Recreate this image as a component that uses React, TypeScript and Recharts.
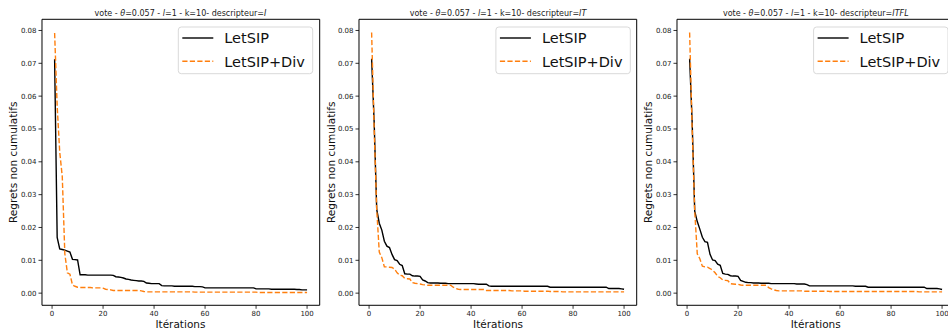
import React from 'react';
import { LineChart, Line, XAxis, YAxis, ReferenceLine } from 'recharts';

// iteration index (1..100)
const iterations = Array.from({ length: 100 }, (_, i) => i + 1);

// descripteur = I
const letsipI = [
  0.0712, 0.0170, 0.0135, 0.0133, 0.0131, 0.0128, 0.0125, 0.0103, 0.0102, 0.0101,
  0.0056, 0.0056, 0.0056, 0.0055, 0.0055, 0.0055, 0.0055, 0.0055, 0.0055, 0.0055,
  0.0055, 0.0055, 0.0055, 0.0054, 0.0050, 0.0049, 0.0048, 0.0046, 0.0043, 0.0042,
  0.0040, 0.0039, 0.0038, 0.0037, 0.0037, 0.0036, 0.0031, 0.0030, 0.0029, 0.0029,
  0.0029, 0.0029, 0.0023, 0.0022, 0.0022, 0.0022, 0.0022, 0.0021, 0.0021, 0.0021,
  0.0021, 0.0021, 0.0021, 0.0021, 0.0021, 0.0020, 0.0020, 0.0020, 0.0019, 0.0016,
  0.0016, 0.0016, 0.0016, 0.0016, 0.0016, 0.0016, 0.0016, 0.0016, 0.0016, 0.0016,
  0.0016, 0.0016, 0.0016, 0.0016, 0.0016, 0.0016, 0.0016, 0.0016, 0.0016, 0.0013,
  0.0013, 0.0013, 0.0013, 0.0013, 0.0013, 0.0012, 0.0012, 0.0012, 0.0012, 0.0012,
  0.0012, 0.0012, 0.0012, 0.0012, 0.0012, 0.0011, 0.0011, 0.0010, 0.0010, 0.0010,
];
const divI = [
  0.0792, 0.0570, 0.0430, 0.0355, 0.0120, 0.0062, 0.0058, 0.0025, 0.0021, 0.0018,
  0.0017, 0.0017, 0.0017, 0.0017, 0.0017, 0.0016, 0.0016, 0.0016, 0.0016, 0.0015,
  0.0012, 0.0011, 0.0010, 0.0008, 0.0008, 0.0008, 0.0008, 0.0008, 0.0008, 0.0008,
  0.0008, 0.0008, 0.0008, 0.0008, 0.0007, 0.0005, 0.0004, 0.0004, 0.0004, 0.0004,
  0.0004, 0.0004, 0.0004, 0.0004, 0.0004, 0.0004, 0.0004, 0.0004, 0.0004, 0.0004,
  0.0004, 0.0004, 0.0004, 0.0004, 0.0004, 0.0003, 0.0003, 0.0003, 0.0003, 0.0003,
  0.0003, 0.0003, 0.0003, 0.0003, 0.0003, 0.0003, 0.0003, 0.0003, 0.0003, 0.0003,
  0.0003, 0.0003, 0.0003, 0.0003, 0.0003, 0.0003, 0.0003, 0.0003, 0.0003, 0.0003,
  0.0002, 0.0002, 0.0002, 0.0002, 0.0002, 0.0002, 0.0002, 0.0002, 0.0002, 0.0002,
  0.0002, 0.0002, 0.0002, 0.0002, 0.0002, 0.0002, 0.0002, 0.0002, 0.0002, 0.0002,
];

// descripteur = IT
const letsipIT = [
  0.0714, 0.0520, 0.0255, 0.0213, 0.0192, 0.0158, 0.0143, 0.0139, 0.0118, 0.0102,
  0.0099, 0.0088, 0.0084, 0.0059, 0.0058, 0.0058, 0.0053, 0.0052, 0.0052, 0.0051,
  0.0040, 0.0037, 0.0032, 0.0031, 0.0031, 0.0031, 0.0031, 0.0030, 0.0030, 0.0030,
  0.0029, 0.0029, 0.0029, 0.0029, 0.0029, 0.0029, 0.0029, 0.0029, 0.0029, 0.0029,
  0.0029, 0.0028, 0.0027, 0.0027, 0.0027, 0.0027, 0.0022, 0.0021, 0.0021, 0.0021,
  0.0021, 0.0021, 0.0021, 0.0021, 0.0021, 0.0021, 0.0021, 0.0021, 0.0021, 0.0021,
  0.0021, 0.0021, 0.0021, 0.0021, 0.0021, 0.0021, 0.0021, 0.0021, 0.0021, 0.0021,
  0.0018, 0.0018, 0.0018, 0.0018, 0.0018, 0.0018, 0.0018, 0.0018, 0.0018, 0.0018,
  0.0018, 0.0018, 0.0018, 0.0018, 0.0018, 0.0018, 0.0018, 0.0018, 0.0018, 0.0018,
  0.0018, 0.0018, 0.0018, 0.0014, 0.0014, 0.0014, 0.0014, 0.0014, 0.0013, 0.0012,
];
const divIT = [
  0.0794, 0.0500, 0.0255, 0.0125, 0.0108, 0.0080, 0.0080, 0.0079, 0.0078, 0.0073,
  0.0062, 0.0055, 0.0053, 0.0045, 0.0044, 0.0043, 0.0032, 0.0030, 0.0029, 0.0028,
  0.0026, 0.0025, 0.0024, 0.0024, 0.0024, 0.0024, 0.0024, 0.0024, 0.0024, 0.0024,
  0.0024, 0.0024, 0.0018, 0.0014, 0.0012, 0.0011, 0.0011, 0.0011, 0.0011, 0.0011,
  0.0011, 0.0011, 0.0011, 0.0011, 0.0011, 0.0008, 0.0008, 0.0008, 0.0008, 0.0008,
  0.0008, 0.0008, 0.0008, 0.0008, 0.0008, 0.0007, 0.0007, 0.0007, 0.0007, 0.0007,
  0.0006, 0.0006, 0.0006, 0.0006, 0.0006, 0.0006, 0.0006, 0.0006, 0.0006, 0.0006,
  0.0005, 0.0005, 0.0005, 0.0005, 0.0005, 0.0004, 0.0004, 0.0004, 0.0004, 0.0004,
  0.0004, 0.0004, 0.0004, 0.0004, 0.0004, 0.0004, 0.0004, 0.0004, 0.0004, 0.0004,
  0.0004, 0.0004, 0.0004, 0.0004, 0.0004, 0.0004, 0.0004, 0.0004, 0.0004, 0.0004,
];

// descripteur = ITFL
const letsipITFL = [
  0.0714, 0.0520, 0.0250, 0.0218, 0.0195, 0.0170, 0.0157, 0.0155, 0.0118, 0.0101,
  0.0099, 0.0088, 0.0085, 0.0060, 0.0058, 0.0057, 0.0053, 0.0052, 0.0052, 0.0051,
  0.0039, 0.0036, 0.0033, 0.0032, 0.0032, 0.0031, 0.0031, 0.0031, 0.0030, 0.0030,
  0.0030, 0.0030, 0.0029, 0.0029, 0.0029, 0.0029, 0.0029, 0.0029, 0.0029, 0.0029,
  0.0029, 0.0029, 0.0028, 0.0028, 0.0028, 0.0028, 0.0026, 0.0022, 0.0022, 0.0022,
  0.0022, 0.0022, 0.0022, 0.0022, 0.0022, 0.0022, 0.0022, 0.0022, 0.0022, 0.0022,
  0.0022, 0.0022, 0.0022, 0.0022, 0.0022, 0.0021, 0.0021, 0.0021, 0.0021, 0.0021,
  0.0018, 0.0018, 0.0018, 0.0018, 0.0018, 0.0018, 0.0018, 0.0018, 0.0018, 0.0018,
  0.0018, 0.0018, 0.0018, 0.0018, 0.0018, 0.0018, 0.0018, 0.0018, 0.0018, 0.0018,
  0.0018, 0.0018, 0.0018, 0.0014, 0.0014, 0.0014, 0.0014, 0.0014, 0.0013, 0.0011,
];
const divITFL = [
  0.0794, 0.0500, 0.0250, 0.0120, 0.0105, 0.0082, 0.0080, 0.0079, 0.0075, 0.0070,
  0.0062, 0.0051, 0.0047, 0.0040, 0.0039, 0.0038, 0.0029, 0.0028, 0.0027, 0.0027,
  0.0025, 0.0024, 0.0024, 0.0024, 0.0024, 0.0024, 0.0024, 0.0024, 0.0024, 0.0024,
  0.0024, 0.0017, 0.0013, 0.0010, 0.0008, 0.0007, 0.0007, 0.0007, 0.0007, 0.0007,
  0.0007, 0.0007, 0.0007, 0.0007, 0.0007, 0.0006, 0.0006, 0.0006, 0.0006, 0.0006,
  0.0006, 0.0006, 0.0006, 0.0006, 0.0006, 0.0005, 0.0005, 0.0005, 0.0005, 0.0005,
  0.0005, 0.0005, 0.0005, 0.0005, 0.0005, 0.0005, 0.0005, 0.0005, 0.0005, 0.0005,
  0.0005, 0.0005, 0.0005, 0.0005, 0.0005, 0.0005, 0.0005, 0.0005, 0.0005, 0.0005,
  0.0005, 0.0005, 0.0005, 0.0005, 0.0005, 0.0005, 0.0005, 0.0005, 0.0005, 0.0005,
  0.0004, 0.0004, 0.0004, 0.0004, 0.0004, 0.0004, 0.0004, 0.0004, 0.0004, 0.0004,
];

const xTicks = [0, 20, 40, 60, 80, 100];
const yTicks = [0, 0.01, 0.02, 0.03, 0.04, 0.05, 0.06, 0.07, 0.08];
const descriptors = ['I', 'IT', 'ITFL'];
const seriesNames = ['LetSIP', 'LetSIP+Div'];

const panels = [
  { desc: descriptors[0], black: letsipI, orange: divI },
  { desc: descriptors[1], black: letsipIT, orange: divIT },
  { desc: descriptors[2], black: letsipITFL, orange: divITFL },
];

const FONT = '"DejaVu Sans", sans-serif';
const ORANGE = '#ff7f0e';
const PLOT_LEFTS = [41.6, 359.2, 676.9];
const PLOT_W = 277.7;
const PLOT_TOP = 19.3;
const PLOT_BOTTOM = 305.3;
const Y_AXIS_W = 42;
const CHART_H = 333;
const X_DOMAIN = [-3.95, 104.95];
const Y_DOMAIN = [-0.0037, 0.0834];

const tickStyle = { fontSize: 7, fill: '#222', fontFamily: FONT };
const spine = { stroke: '#000', strokeWidth: 1 };

const Panel = ({ black, orange, left }: { black: number[]; orange: number[]; left: number }) => {
  const data = iterations.map((it, i) => ({ it, letsip: black[i], div: orange[i] }));
  return (
    <div style={{ position: 'absolute', left: left - Y_AXIS_W, top: 0 }}>
      <LineChart
        width={Y_AXIS_W + PLOT_W + 4}
        height={CHART_H}
        data={data}
        margin={{ top: PLOT_TOP, right: 4, left: 0, bottom: 0 }}
      >
        <XAxis
          dataKey="it"
          type="number"
          domain={X_DOMAIN}
          ticks={xTicks}
          allowDataOverflow
          height={CHART_H - PLOT_BOTTOM}
          tick={tickStyle}
          tickSize={3.5}
          tickMargin={2}
          tickLine={{ stroke: '#000', strokeWidth: 0.8 }}
          axisLine={spine}
        />
        <YAxis
          type="number"
          domain={Y_DOMAIN}
          ticks={yTicks}
          allowDataOverflow
          width={Y_AXIS_W}
          tick={tickStyle}
          tickSize={3.5}
          tickMargin={2}
          tickFormatter={(v: number) => v.toFixed(2)}
          tickLine={{ stroke: '#000', strokeWidth: 0.8 }}
          axisLine={spine}
        />
        {/* top and right spines of the matplotlib frame */}
        <ReferenceLine y={Y_DOMAIN[1]} stroke="#000" strokeWidth={1} ifOverflow="visible" />
        <ReferenceLine x={X_DOMAIN[1]} stroke="#000" strokeWidth={1} ifOverflow="visible" />
        <Line
          type="linear"
          dataKey="letsip"
          stroke="#000"
          strokeWidth={1.4}
          dot={false}
          isAnimationActive={false}
        />
        <Line
          type="linear"
          dataKey="div"
          stroke={ORANGE}
          strokeWidth={1.4}
          strokeDasharray="5.2 2.3"
          dot={false}
          isAnimationActive={false}
        />
      </LineChart>
    </div>
  );
};

const Decorations = () => (
  <svg
    width={948}
    height={333}
    style={{ position: 'absolute', left: 0, top: 0, pointerEvents: 'none' }}
    fontFamily={FONT}
  >
    {panels.map((p, i) => {
      const l = PLOT_LEFTS[i];
      const cx = l + PLOT_W / 2;
      const cy = (PLOT_TOP + PLOT_BOTTOM) / 2;
      const lx = l + PLOT_W - 6.6 - 134.4;
      return (
        <g key={p.desc}>
          <text x={cx} y={15.5} fontSize={8} textAnchor="middle" fill="#222">
            vote - <tspan fontStyle="italic">θ</tspan>=0.057 - <tspan fontStyle="italic">l</tspan>=1 - k=10- descripteur=<tspan fontStyle="italic">{p.desc}</tspan>
          </text>
          <text
            x={l - 24.6}
            y={cy}
            fontSize={10.5}
            textAnchor="middle"
            fill="#111"
            transform={`rotate(-90, ${l - 24.6}, ${cy})`}
          >
            Regrets non cumulatifs
          </text>
          <text x={cx} y={328} fontSize={10.5} textAnchor="middle" fill="#111">
            Itérations
          </text>
          <rect
            x={lx}
            y={27}
            width={134.4}
            height={46.7}
            rx={3}
            fill="#fff"
            fillOpacity={0.8}
            stroke="#d9d9d9"
            strokeWidth={1}
          />
          <line x1={lx + 4} x2={lx + 35} y1={38} y2={38} stroke="#000" strokeWidth={1.4} />
          <line
            x1={lx + 4}
            x2={lx + 35}
            y1={61.3}
            y2={61.3}
            stroke={ORANGE}
            strokeWidth={1.4}
            strokeDasharray="5.2 2.3"
          />
          <text x={lx + 46} y={43.3} fontSize={14.5} fill="#111">
            {seriesNames[0]}
          </text>
          <text x={lx + 46} y={66.6} fontSize={14.5} fill="#111">
            {seriesNames[1]}
          </text>
        </g>
      );
    })}
  </svg>
);

export default function App() {
  return (
    <div
      style={{
        position: 'absolute',
        left: 0,
        top: 0,
        width: 948,
        height: 333,
        overflow: 'hidden',
        background: '#fff',
      }}
    >
      {panels.map((p, i) => (
        <Panel key={p.desc} black={p.black} orange={p.orange} left={PLOT_LEFTS[i]} />
      ))}
      <Decorations />
    </div>
  );
}
